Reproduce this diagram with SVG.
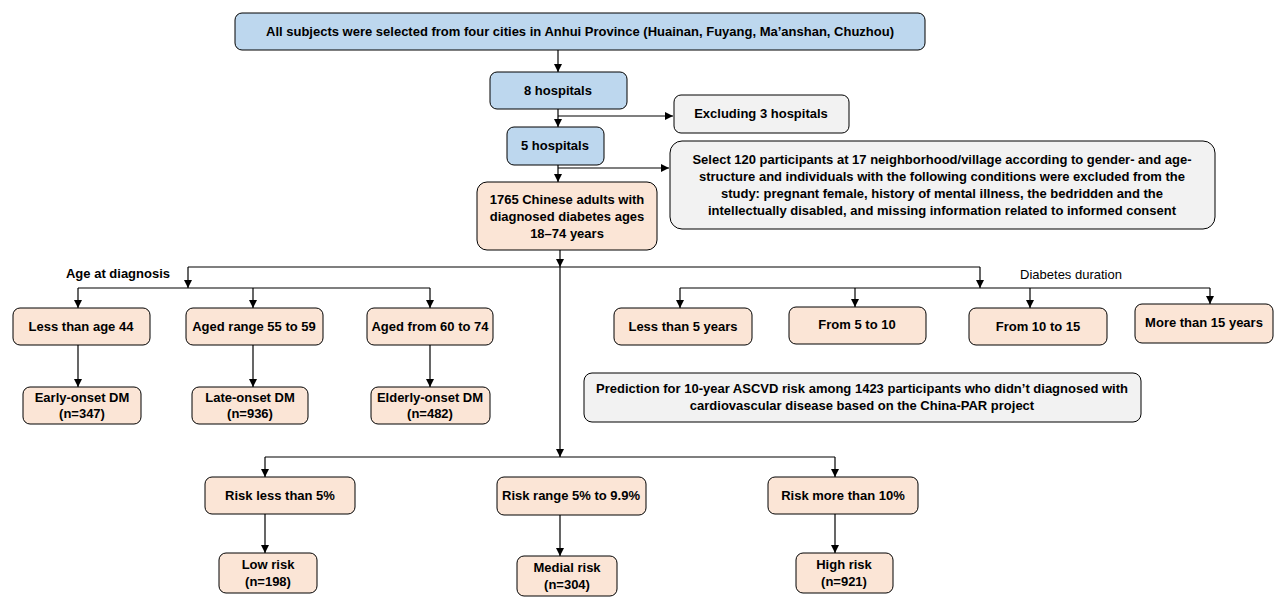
<svg xmlns="http://www.w3.org/2000/svg" width="1280" height="608" viewBox="0 0 1280 608">
<defs>
<marker id="ah" viewBox="0 0 10 10" refX="10" refY="5" markerWidth="8" markerHeight="8" markerUnits="userSpaceOnUse" orient="auto"><path d="M0,0 L10,5 L0,10 z" fill="#000"/></marker>
<style>
.b{fill:#bdd7ee;stroke:#000;stroke-width:1}
.p{fill:#fbe5d6;stroke:#000;stroke-width:1}
.g{fill:#f2f2f2;stroke:#000;stroke-width:1}
text{font-family:"Liberation Sans",Arial,sans-serif;font-weight:bold;font-size:13px;fill:#000;text-anchor:middle}
.l{fill:none;stroke:#000;stroke-width:1.2}
.a{fill:none;stroke:#000;stroke-width:1.2;marker-end:url(#ah)}
</style>
</defs>
<rect width="1280" height="608" fill="#fff"/>
<g id="connectors">
<path class="a" d="M558,50 V72"/>
<path class="a" d="M558,109 V127"/>
<path class="a" d="M558,116 H673"/>
<path class="a" d="M558,165 V182"/>
<path class="a" d="M558,168 H669"/>
<path class="a" d="M560,250 V267"/>
<path class="l" d="M188,267 H980"/>
<path class="a" d="M560,267 V457"/>
<path class="a" d="M188,267 V288"/>
<path class="a" d="M980,267 V288"/>
<path class="l" d="M78,288 H430"/>
<path class="a" d="M78,288 V308"/>
<path class="a" d="M253,288 V308"/>
<path class="a" d="M430,288 V308"/>
<path class="l" d="M680,288 H1210"/>
<path class="a" d="M680,288 V308"/>
<path class="a" d="M855,288 V307"/>
<path class="a" d="M1030,288 V308"/>
<path class="a" d="M1210,288 V304"/>
<path class="a" d="M78,345 V387"/>
<path class="a" d="M253,345 V387"/>
<path class="a" d="M430,345 V387"/>
<path class="l" d="M265,457 H835"/>
<path class="a" d="M265,457 V477"/>
<path class="a" d="M835,457 V477"/>
<path class="a" d="M265,514 V553"/>
<path class="a" d="M560,515 V556"/>
<path class="a" d="M835,514 V553"/>
</g>
<g id="n-top"><rect class="b" x="235" y="13" width="690" height="37" rx="7"/><text x="580" y="36">All subjects  were selected from four cities in Anhui Province (Huainan, Fuyang, Ma’anshan, Chuzhou)</text></g>
<g id="n-8h"><rect class="b" x="490" y="72" width="137" height="37" rx="7"/><text x="558" y="95">8 hospitals</text></g>
<g id="n-ex"><rect class="g" x="674" y="95" width="175" height="38" rx="7"/><text x="761" y="118">Excluding 3 hospitals</text></g>
<g id="n-5h"><rect class="b" x="507" y="127" width="97" height="38" rx="7"/><text x="555" y="150">5 hospitals</text></g>
<g id="n-sel"><rect class="g" x="670" y="141" width="545" height="88" rx="12"/>
<text x="942" y="164">Select 120 participants at 17 neighborhood/village according to gender- and age-</text>
<text x="942" y="181">structure  and individuals with the following conditions  were excluded from the</text>
<text x="942" y="198">study:  pregnant female, history of mental illness, the bedridden and the</text>
<text x="942" y="215">intellectually disabled, and missing information related to informed consent</text></g>
<g id="n-1765"><rect class="p" x="477" y="182" width="180" height="68" rx="10"/>
<text x="567" y="204">1765 Chinese adults with</text>
<text x="567" y="221">diagnosed diabetes ages</text>
<text x="567" y="238">18–74 years</text></g>
<g id="lbl-age"><text x="118" y="278">Age at diagnosis</text></g>
<g id="lbl-dur"><text x="1071" y="279" style="font-weight:normal;font-family:'Liberation Sans Narrow','Liberation Sans',sans-serif">Diabetes duration</text></g>
<g id="n-a1"><rect class="p" x="13" y="308" width="137" height="37" rx="7"/><text x="81" y="331">Less  than age 44</text></g>
<g id="n-a2"><rect class="p" x="186" y="308" width="137" height="37" rx="7"/><text x="254" y="331">Aged range 55 to 59</text></g>
<g id="n-a3"><rect class="p" x="367" y="308" width="126" height="37" rx="7"/><text x="430" y="331">Aged from 60 to 74</text></g>
<g id="n-e1"><rect class="p" x="23" y="387" width="118" height="37" rx="7"/><text x="82" y="402">Early-onset  DM</text><text x="82" y="418">(n=347)</text></g>
<g id="n-e2"><rect class="p" x="192" y="387" width="116" height="37" rx="7"/><text x="250" y="402">Late-onset  DM</text><text x="250" y="418">(n=936)</text></g>
<g id="n-e3"><rect class="p" x="371" y="387" width="119" height="37" rx="7"/><text x="430" y="402">Elderly-onset  DM</text><text x="430" y="418">(n=482)</text></g>
<g id="n-d1"><rect class="p" x="614" y="308" width="138" height="37" rx="7"/><text x="683" y="331">Less  than 5 years</text></g>
<g id="n-d2"><rect class="p" x="789" y="307" width="137" height="37" rx="7"/><text x="857" y="329">From 5 to 10</text></g>
<g id="n-d3"><rect class="p" x="969" y="308" width="138" height="37" rx="7"/><text x="1038" y="331">From 10 to 15</text></g>
<g id="n-d4"><rect class="p" x="1135" y="304" width="138" height="39" rx="7"/><text x="1204" y="327">More than 15 years</text></g>
<g id="n-pred"><rect class="g" x="584" y="373" width="557" height="49" rx="8"/>
<text x="862" y="393">Prediction for 10-year ASCVD risk  among 1423 participants who didn’t diagnosed with</text>
<text x="862" y="410">cardiovascular disease based on the China-PAR project</text></g>
<g id="n-r1"><rect class="p" x="205" y="477" width="150" height="37" rx="7"/><text x="280" y="500">Risk  less than 5%</text></g>
<g id="n-r2"><rect class="p" x="497" y="477" width="149" height="38" rx="7"/><text x="571" y="500">Risk  range 5% to 9.9%</text></g>
<g id="n-r3"><rect class="p" x="768" y="477" width="150" height="37" rx="7"/><text x="843" y="500">Risk  more than 10%</text></g>
<g id="n-o1"><rect class="p" x="219" y="553" width="98" height="40" rx="7"/><text x="268" y="569">Low risk</text><text x="268" y="586">(n=198)</text></g>
<g id="n-o2"><rect class="p" x="517" y="556" width="100" height="40" rx="7"/><text x="567" y="572">Medial risk</text><text x="567" y="589">(n=304)</text></g>
<g id="n-o3"><rect class="p" x="796" y="553" width="97" height="40" rx="7"/><text x="844" y="569">High risk</text><text x="844" y="586">(n=921)</text></g>
</svg>
